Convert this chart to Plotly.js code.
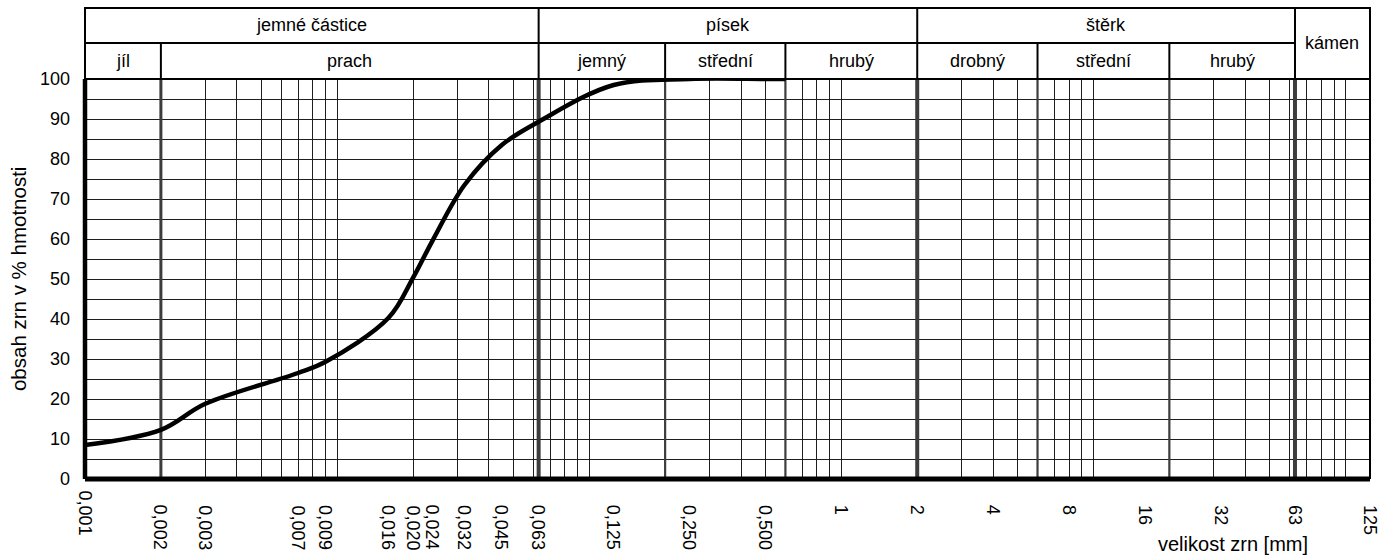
<!DOCTYPE html>
<html>
<head>
<meta charset="utf-8">
<script src="https://cdn.plot.ly/plotly-3.0.1.min.js"></script>
<style>
html,body{margin:0;padding:0;background:#fff;}
#chart{width:1390px;height:558px;}
</style>
</head>
<body>
<div id="chart"></div>
<script>
// ---- data ----
const grainSize = [0.001, 0.002, 0.003, 0.007, 0.009, 0.016, 0.020, 0.024, 0.032, 0.045, 0.063, 0.125, 0.25, 0.5, 0.6];
const passingPct = [8.5, 12.3, 18.8, 26.5, 29.3, 40.3, 50.3, 59.8, 73.5, 83.5, 89.3, 98.5, 100, 100, 100];

const xTickVals = [0.001, 0.002, 0.003, 0.007, 0.009, 0.016, 0.020, 0.024, 0.032, 0.045, 0.063, 0.125, 0.25, 0.5, 1, 2, 4, 8, 16, 32, 63, 125];
const xTickText = ["0,001", "0,002", "0,003", "0,007", "0,009", "0,016", "0,020", "0,024", "0,032", "0,045", "0,063", "0,125", "0,250", "0,500", "1", "2", "4", "8", "16", "32", "63", "125"];

const yTickVals = [0, 10, 20, 30, 40, 50, 60, 70, 80, 90, 100];

// header groups (row 1) and subgroups (row 2)
const groupNames = ["jemné částice", "písek", "štěrk", "kámen"];
const groupFrom = [0.001, 0.063, 2, 63];
const groupTo = [0.063, 2, 63, 125];

const subNames = ["jíl", "prach", "jemný", "střední", "hrubý", "drobný", "střední", "hrubý"];
const subFrom = [0.001, 0.002, 0.063, 0.2, 0.6, 2, 6, 20];
const subTo = [0.002, 0.063, 0.2, 0.6, 2, 6, 20, 63];

// boundary lines in plot
const boundVals = [0.002, 0.063, 0.2, 0.6, 2, 6, 20, 63];

const xMin = 0.001, xMax = 125;

// ---- layout helpers ----
const FONT = '"Liberation Sans", Arial, Helvetica, sans-serif';
const yHeadTop = 1.1775, yHeadMid = 1.09;
const shapes = [];
const annotations = [];

// boundary lines (drawn between grid and trace)
boundVals.forEach(v => {
  const major = (v === 0.063 || v === 2 || v === 63);
  const w = major ? 4 : (v === 0.002 ? 3 : 2.2);
  shapes.push({type: 'line', xref: 'x', yref: 'y', x0: v, x1: v, y0: 0, y1: 100,
    line: {color: '#3d3d3d', width: w}, layer: 'between'});
});

// header outer frame
shapes.push({type: 'rect', xref: 'paper', yref: 'paper', x0: 0, x1: 1, y0: 1, y1: yHeadTop,
  line: {color: '#000', width: 2}, fillcolor: 'rgba(0,0,0,0)', layer: 'above'});
// row separator (up to the kámen column)
shapes.push({type: 'line', xref: 'x', yref: 'paper', x0: xMin, x1: 63, y0: yHeadMid, y1: yHeadMid,
  line: {color: '#000', width: 2}});
// group dividers (full header height)
groupFrom.slice(1).forEach(v => {
  shapes.push({type: 'line', xref: 'x', yref: 'paper', x0: v, x1: v, y0: 1, y1: yHeadTop,
    line: {color: '#000', width: 2}});
});
// subgroup dividers (lower row)
subFrom.forEach(v => {
  if (groupFrom.indexOf(v) >= 0) return;
  shapes.push({type: 'line', xref: 'x', yref: 'paper', x0: v, x1: v, y0: 1, y1: yHeadMid,
    line: {color: '#000', width: 2}});
});
// plot right border
shapes.push({type: 'line', xref: 'paper', yref: 'paper', x0: 1, x1: 1, y0: 0, y1: 1,
  line: {color: '#000', width: 2}});
// thick left and bottom axis lines
shapes.push({type: 'line', xref: 'paper', yref: 'paper', x0: 0, x1: 0, y0: 0, y1: 1,
  line: {color: '#000', width: 4.5}});
shapes.push({type: 'line', xref: 'paper', yref: 'paper', x0: 0, x1: 1, y0: 0, y1: 0,
  line: {color: '#000', width: 5}});

const lg = Math.log10;
// header texts
groupNames.forEach((n, i) => {
  const isStone = (n === "kámen");
  annotations.push({xref: 'x', yref: 'paper', x: (lg(groupFrom[i]) + lg(groupTo[i])) / 2,
    y: isStone ? (1 + yHeadTop) / 2 : (yHeadMid + yHeadTop) / 2,
    text: n, showarrow: false, xanchor: 'center', yanchor: 'middle',
    font: {family: FONT, size: 18, color: '#000'}});
});
subNames.forEach((n, i) => {
  annotations.push({xref: 'x', yref: 'paper', x: (lg(subFrom[i]) + lg(subTo[i])) / 2,
    y: (1 + yHeadMid) / 2, text: n, showarrow: false, xanchor: 'center', yanchor: 'middle',
    font: {family: FONT, size: 18, color: '#000'}});
});
// x tick labels (rotated)
xTickVals.forEach((v, i) => {
  annotations.push({xref: 'x', yref: 'paper', x: lg(v), y: i === 0 ? -0.0225 : -0.06,
    text: xTickText[i], showarrow: false, textangle: 90, xanchor: 'center', yanchor: 'top',
    font: {family: FONT, size: 18, color: '#000'}});
});
// axis titles
annotations.push({xref: 'paper', yref: 'paper', x: 0.8934, y: -0.162, text: 'velikost zrn [mm]',
  showarrow: false, xanchor: 'center', yanchor: 'middle', font: {family: FONT, size: 20, color: '#000'}});
annotations.push({xref: 'paper', yref: 'paper', x: -0.0521, y: 0.5, text: 'obsah zrn v % hmotnosti',
  showarrow: false, textangle: -90, xanchor: 'center', yanchor: 'middle', font: {family: FONT, size: 20.5, color: '#000'}});

const trace = {
  x: grainSize, y: passingPct, type: 'scatter', mode: 'lines',
  line: {color: '#000', width: 4.5, shape: 'spline', smoothing: 1},
  cliponaxis: false, hoverinfo: 'skip'
};

const layout = {
  width: 1390, height: 558,
  margin: {l: 85, r: 20, t: 79, b: 79, pad: 0},
  paper_bgcolor: '#fff', plot_bgcolor: '#fff',
  showlegend: false,
  xaxis: {type: 'log', range: [lg(xMin), lg(xMax)], dtick: 'D1', showticklabels: false,
    ticks: '', showgrid: true, gridcolor: '#1e1e1e', gridwidth: 1, showline: false, zeroline: false},
  yaxis: {range: [0, 100], tickvals: yTickVals, ticks: '', ticklabelstandoff: 14,
    tickfont: {family: FONT, size: 18, color: '#000'},
    showgrid: true, gridcolor: '#1e1e1e', gridwidth: 1, zeroline: false, showline: false,
    minor: {dtick: 5, showgrid: true, gridcolor: '#1e1e1e', gridwidth: 1}},
  shapes: shapes,
  annotations: annotations
};

Plotly.newPlot('chart', [trace], layout, {staticPlot: true, displayModeBar: false});
</script>
</body>
</html>
